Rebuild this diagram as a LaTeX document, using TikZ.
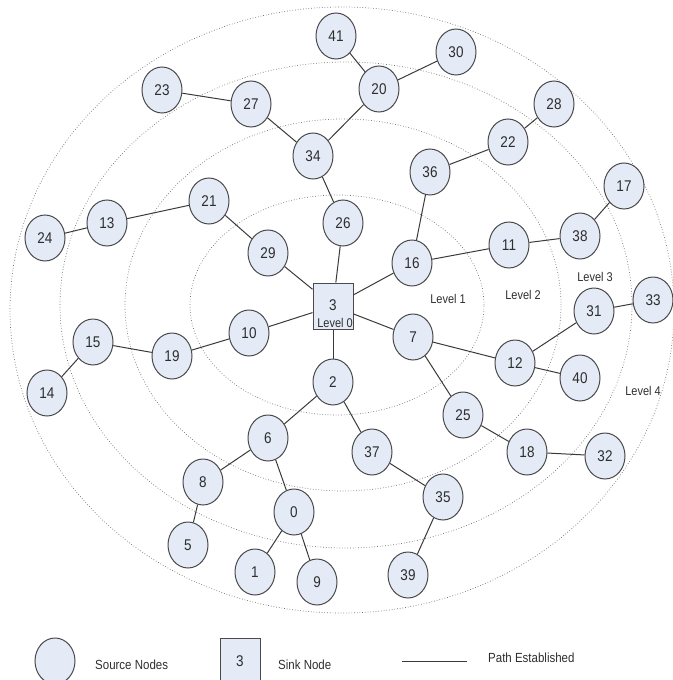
\documentclass[tikz,border=0pt]{standalone}
\usepackage{fontspec}
\setmainfont{Liberation Sans}
\usepackage{tikz}
\usetikzlibrary{shapes.geometric}

\definecolor{nodefill}{HTML}{E4EAF6}
\definecolor{nodeline}{HTML}{4A4A4A}
\definecolor{linkline}{HTML}{3A3A3A}
\definecolor{ringline}{HTML}{6E6E6E}
\definecolor{txtcol}{HTML}{2E2E2E}

\newcommand{\tallnum}[1]{\scalebox{1}[1.15]{#1}}

\tikzset{
  src/.style={ellipse, draw=nodeline, fill=nodefill, line width=1pt,
    minimum width=40pt, minimum height=46pt, inner sep=0pt,
    text=txtcol, font=\fontsize{13.5}{15}\selectfont},
  sink/.style={rectangle, draw=nodeline, fill=nodefill, line width=1pt,
    minimum width=40pt, minimum height=46pt, inner sep=0pt,
    text=txtcol, font=\fontsize{13.5}{15}\selectfont},
  link/.style={draw=linkline, line width=1pt},
  ring/.style={draw=ringline, dotted, line width=0.7pt},
  lbl/.style={text=txtcol, inner sep=0pt, font=\fontsize{11}{13}\selectfont},
}

\begin{document}
\begin{tikzpicture}[x=1pt,y=-1pt]
   \useasboundingbox (0,0) rectangle (672,680);

   % levels
   \draw[ring] (337,305) ellipse [x radius=147pt, y radius=110pt];
   \draw[ring] (343,305) ellipse [x radius=218pt, y radius=186pt];
   \draw[ring] (346,305) ellipse [x radius=286pt, y radius=243pt];
   \draw[ring] (342,310) ellipse [x radius=332pt, y radius=303pt];

   \node[lbl] (lev1) at (448,299) {\tallnum{Level 1}};
   \node[lbl] (lev2) at (523,295) {\tallnum{Level 2}};
   \node[lbl] (lev3) at (595,277) {\tallnum{Level 3}};
   \node[lbl] (lev4) at (643,391) {\tallnum{Level 4}};

   % sink
   \node[sink] (n3) at (333,306) {};
   \node[lbl, font=\fontsize{13.5}{15}\selectfont] (n3num) at (333,305) {\tallnum{3}};
   \node[lbl] (lev0) at (335,323) {\tallnum{Level 0}};

   % source nodes
   \foreach \n/\x/\y in {41/336/36, 30/456/52, 20/379/89, 23/162/90, 27/251/104,
      28/554/104, 22/508/142, 34/313/156, 36/430/172, 17/624/186, 21/209/201,
      26/343/223, 13/107/223, 24/45/238, 38/580/236, 11/509/245, 29/268/253,
      16/412/263, 33/653/300, 31/594/311, 10/249/333, 7/413/337, 15/93/342,
      19/172/356, 12/515/363, 40/580/378, 2/333/382, 14/47/393, 25/463/415,
      6/268/438, 37/372/452, 18/527/452, 32/605/456, 8/203/482, 35/443/497,
      0/294/512, 5/188/545, 1/255/572, 9/317/582, 39/408/575}
      \node[src] (n\n) at (\x,\y) {\tallnum{\n}};

   % paths
   \foreach \a/\b in {3/29, 3/26, 3/16, 3/10, 3/7, 3/2,
      29/21, 21/13, 13/24, 26/34, 34/27, 27/23, 34/20, 20/41, 20/30,
      16/36, 36/22, 22/28, 16/11, 11/38, 38/17, 10/19, 19/15, 15/14,
      7/12, 12/31, 31/33, 12/40, 7/25, 25/18, 18/32,
      2/6, 6/8, 8/5, 6/0, 0/1, 0/9, 2/37, 37/35, 35/39}
      \draw[link] (n\a) -- (n\b);

   % legend
   \node[src] (legsrc) at (55,661) {};
   \node[lbl, anchor=west, font=\fontsize{11.5}{13}\selectfont] (legsrctxt) at (95,665) {\tallnum{Source Nodes}};
   \node[sink] (legsink) at (240,661) {\tallnum{3}};
   \node[lbl, anchor=west, font=\fontsize{11.5}{13}\selectfont] (legsinktxt) at (278,665) {\tallnum{Sink Node}};
   \coordinate (pa) at (402,661);
   \coordinate (pb) at (467,661);
   \draw[link] (pa) -- (pb);
   \node[lbl, anchor=west, font=\fontsize{11.5}{13}\selectfont] (legpathtxt) at (488,658) {\tallnum{Path Established}};

 \end{tikzpicture}
\end{document}
